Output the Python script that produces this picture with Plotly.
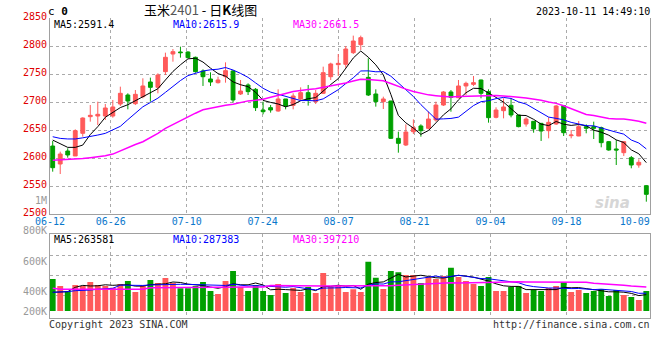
import plotly.graph_objects as go

# ---------------- data ----------------
dates = ["06-12","06-13","06-14","06-15","06-16","06-19","06-20","06-21","06-26","06-27",
         "06-28","06-29","06-30","07-03","07-04","07-05","07-06","07-07","07-10","07-11",
         "07-12","07-13","07-14","07-17","07-18","07-19","07-20","07-21","07-24","07-25",
         "07-26","07-27","07-28","07-31","08-01","08-02","08-03","08-04","08-07","08-08",
         "08-09","08-10","08-11","08-14","08-15","08-16","08-17","08-18","08-21","08-22",
         "08-23","08-24","08-25","08-28","08-29","08-30","08-31","09-01","09-04","09-05",
         "09-06","09-07","09-08","09-11","09-12","09-13","09-14","09-15","09-18","09-19",
         "09-20","09-21","09-22","09-25","09-26","09-27","09-28","10-09","10-10","10-11"]

opens = [2621.4,2589.3,2612.5,2603.6,2644.1,2673.8,2675.0,2675.0,2675.0,2696.4,
         2712.5,2697.0,2709.5,2735.7,2726.2,2754.2,2785.7,2789.3,2789.3,2779.8,
         2755.4,2741.1,2734.5,2745.2,2755.4,2714.3,2730.4,2722.6,2685.7,2689.9,
         2683.9,2705.4,2694.0,2705.4,2716.7,2700.6,2715.5,2745.2,2766.7,2767.3,
         2788.1,2802.4,2744.0,2714.3,2700.6,2701.8,2635.1,2623.2,2647.0,2657.2,
         2653.0,2667.9,2694.6,2717.9,2707.7,2728.6,2731.5,2739.3,2718.5,2672.6,
         2684.5,2694.1,2676.8,2660.7,2665.5,2661.9,2648.8,2660.7,2693.5,2639.9,
         2639.3,2656.0,2656.0,2654.2,2629.2,2616.1,2609.5,2600.6,2587.5,2550.6]
highs = [2630.4,2611.3,2617.3,2651.2,2672.6,2694.6,2700.6,2696.4,2703.6,2727.4,
         2715.5,2721.4,2742.3,2743.5,2751.2,2788.1,2794.6,2798.8,2790.5,2781.0,
         2758.3,2753.0,2745.2,2770.8,2757.0,2739.3,2733.3,2725.0,2700.6,2694.6,
         2722.6,2705.4,2715.5,2726.2,2730.4,2721.4,2763.1,2770.2,2785.7,2800.0,
         2818.5,2818.5,2778.0,2722.6,2709.5,2702.0,2647.0,2660.1,2669.0,2660.1,
         2682.7,2700.6,2719.6,2721.4,2739.3,2736.3,2746.4,2740.0,2722.6,2690.5,
         2706.6,2706.6,2677.0,2672.6,2666.0,2662.0,2672.6,2694.6,2694.6,2650.0,
         2666.1,2660.1,2664.9,2656.0,2630.4,2632.2,2629.2,2603.6,2597.6,2551.8]
lows = [2575.6,2571.4,2600.6,2603.6,2638.1,2664.9,2658.9,2667.9,2672.0,2692.9,
        2686.9,2694.6,2706.6,2700.6,2715.5,2748.2,2772.0,2779.2,2778.0,2752.4,
        2728.6,2728.6,2733.0,2734.5,2698.8,2712.5,2712.5,2683.9,2678.0,2681.0,
        2682.7,2686.9,2686.9,2703.6,2693.5,2696.4,2714.3,2739.3,2746.4,2761.3,
        2785.7,2792.9,2710.7,2691.7,2687.5,2634.0,2609.5,2621.4,2642.9,2638.1,
        2651.2,2664.9,2692.9,2682.7,2706.6,2712.5,2728.6,2706.6,2663.1,2670.8,
        2670.8,2672.6,2654.8,2656.0,2645.2,2630.4,2635.1,2659.0,2639.3,2635.1,
        2639.0,2644.1,2633.9,2619.1,2613.0,2587.5,2603.6,2581.6,2582.7,2522.0]
closes = [2582.7,2607.1,2605.4,2648.8,2671.4,2676.2,2678.0,2689.3,2691.1,2715.5,
          2701.8,2713.7,2728.6,2726.2,2748.2,2779.8,2789.9,2788.1,2779.2,2754.2,
          2745.2,2735.7,2739.3,2756.0,2703.6,2719.6,2718.5,2689.9,2682.7,2685.7,
          2705.4,2692.9,2710.7,2716.7,2703.6,2715.5,2752.4,2767.9,2769.0,2794.6,
          2808.9,2814.9,2712.5,2700.6,2705.4,2635.1,2626.2,2646.4,2654.2,2648.8,
          2669.6,2694.6,2717.9,2708.3,2728.6,2733.3,2734.5,2715.5,2672.0,2685.7,
          2691.1,2676.8,2656.0,2669.6,2651.8,2648.2,2663.7,2692.9,2645.2,2641.0,
          2656.0,2653.0,2653.0,2627.4,2614.3,2614.3,2629.2,2587.5,2592.3,2535.1]
volumes = [522000,408000,326000,424000,408000,473000,424000,408000,380000,440000,
           489000,310000,408000,505000,456000,538000,456000,370000,370000,408000,
           473000,326000,277000,489000,652000,391000,326000,424000,326000,261000,
           440000,293000,375000,310000,391000,293000,619000,391000,408000,310000,
           354000,310000,804000,543000,359000,652000,631000,587000,587000,456000,
           554000,522000,571000,706000,554000,489000,440000,408000,554000,326000,
           326000,391000,408000,293000,342000,326000,375000,408000,473000,310000,
           342000,293000,326000,359000,245000,342000,261000,228000,179000,326000]

# moving-average values before a full window exists
ma5_head = [2632, 2625, 2619, 2619]
ma10_head = [2638, 2635, 2634, 2634, 2636, 2638, 2641, 2644, 2650]
ma30_head = [2596, 2596.5, 2597, 2598, 2599, 2600.5, 2602, 2604, 2607, 2613,
             2619, 2624, 2629, 2636, 2644, 2653, 2660, 2667, 2673, 2680,
             2686, 2689, 2692, 2694, 2696, 2699, 2702, 2703, 2705]
vol_ma5_head = [305000, 305000, 315000, 386000]
vol_ma10_head = [305000, 305000, 315000, 331000, 331000, 342000, 354000, 359000, 370000]
vol_ma30_head = [370000, 356000, 355000, 354000, 354000, 354000, 354000, 354000, 354000, 354000,
                 355000, 355000, 356000, 378000, 380000, 381000, 381000, 382000, 383000, 384000,
                 386000, 388000, 390000, 391000, 391000, 392000, 392000, 393000, 393000]

price_labels = [2500, 2550, 2600, 2650, 2700, 2750, 2800, 2850]
date_label_idx = [0, 8, 18, 28, 38, 48, 58, 68, 77]
date_grid_idx = [8, 18, 28, 38, 48, 58, 68]
vol_axis_labels = ["1M", "800K", "600K", "400K", "200K"]

title_text = "玉米<span style='color:#555555'>2401</span> - 日<b>K</b>线图"
time_text = "2023-10-11 14:49:10"
price_ma_text = ["MA5:2591.4", "MA10:2615.9", "MA30:2661.5"]
vol_ma_text = ["MA5:263581", "MA10:287383", "MA30:397210"]


def moving_avg(vals, n, head):
    out = list(head)
    for i in range(len(head), len(vals)):
        out.append(sum(vals[i - n + 1:i + 1]) / n)
    return out


ma5 = moving_avg(closes, 5, ma5_head)
ma10 = moving_avg(closes, 10, ma10_head)
ma30 = moving_avg(closes, 30, ma30_head)
vma5 = moving_avg(volumes, 5, vol_ma5_head)
vma10 = moving_avg(volumes, 10, vol_ma10_head)
vma30 = moving_avg(volumes, 30, vol_ma30_head)

# ---------------- style ----------------
W, H = 660, 360
MONO = "DejaVu Sans Mono"
RED = "#FF5A5A"
GREEN = "#00A000"
GRID = "#AAAAAA"
AX = "#A0A0A0"
MA_COLORS = ["#000000", "#0000FF", "#FF00FF"]
MA_WIDTHS = [1, 1, 1.5]

xdom = [50 / W, 650 / W]
ydom_main = [1 - 214 / H, 1 - 18 / H]
ydom_vol = [1 - 318.3 / H, 1 - 234.3 / H]
VK = 16300  # volume per pixel
vol_range = [-(318.3 - 311) * VK, (311 - 234.3) * VK]
vol_grid = [(311 - p) * VK for p in (255, 275, 295)]

fig = go.Figure()

fig.add_trace(go.Candlestick(
    x=dates, open=opens, high=highs, low=lows, close=closes,
    increasing=dict(line=dict(color=RED, width=1), fillcolor=RED),
    decreasing=dict(line=dict(color=GREEN, width=1), fillcolor=GREEN),
    whiskerwidth=0, xaxis="x", yaxis="y", showlegend=False, hoverinfo="skip"))

for vals, col, w in zip([ma5, ma10, ma30], MA_COLORS, MA_WIDTHS):
    fig.add_trace(go.Scatter(x=dates, y=vals, mode="lines", line=dict(color=col, width=w),
                             xaxis="x", yaxis="y", showlegend=False, hoverinfo="skip"))

bar_colors = [RED if c >= o else GREEN for o, c in zip(opens, closes)]
fig.add_trace(go.Bar(x=dates, y=volumes, marker=dict(color=bar_colors, line=dict(width=0)),
                     width=0.78, xaxis="x2", yaxis="y2", showlegend=False, hoverinfo="skip"))

for vals, col, w in zip([vma5, vma10, vma30], MA_COLORS, MA_WIDTHS):
    fig.add_trace(go.Scatter(x=dates, y=vals, mode="lines", line=dict(color=col, width=w),
                             xaxis="x2", yaxis="y2", showlegend=False, hoverinfo="skip"))

# dummy traces so the overlay axes exist
for xa, ya in (("x3", "y"), ("x4", "y"), ("x5", "y2")):
    fig.add_trace(go.Scatter(x=[None], y=[None], mode="lines", xaxis=xa, yaxis=ya,
                             showlegend=False, hoverinfo="skip"))

xrange_main = [-0.36, 79.49]

fig.update_layout(
    width=W, height=H, margin=dict(l=0, r=0, t=0, b=0, autoexpand=False),
    paper_bgcolor="white", plot_bgcolor="white",
    showlegend=False, boxgap=0.27, bargap=0.2, hovermode=False,
    font=dict(family=MONO, size=10),
    xaxis=dict(domain=xdom, anchor="y", type="category", range=xrange_main,
               showticklabels=False, showgrid=False, zeroline=False, automargin=False,
               showline=True, linecolor=AX, linewidth=1, ticks="",
               rangeslider=dict(visible=False), fixedrange=True),
    yaxis=dict(domain=ydom_main, anchor="x", range=[2500, 2850], automargin=False,
               tickmode="array", tickvals=price_labels, ticklabelshift=-2,
               tickfont=dict(family=MONO, size=10, color="#E00000"),
               showgrid=True, gridcolor=GRID, griddash="dot", gridwidth=1,
               showline=True, mirror=True, linecolor=AX, linewidth=1,
               zeroline=False, ticks="", fixedrange=True),
    xaxis2=dict(domain=xdom, anchor="y2", type="category", matches="x", automargin=False,
                showticklabels=False, showgrid=False, zeroline=False,
                showline=True, mirror=True, linecolor=AX, linewidth=1, ticks=""),
    yaxis2=dict(domain=ydom_vol, anchor="x2", range=vol_range, automargin=False,
                tickmode="array", tickvals=vol_grid, showticklabels=False,
                showgrid=True, gridcolor=GRID, griddash="dot", gridwidth=1,
                showline=True, mirror=True, linecolor=AX, linewidth=1,
                zeroline=False, ticks="", fixedrange=True),
    xaxis3=dict(domain=xdom, anchor="y", overlaying="x", range=[0, 79], automargin=False,
                tickmode="array", tickvals=date_label_idx,
                ticktext=[dates[k] for k in date_label_idx],
                tickfont=dict(family=MONO, size=10, color="#0A78CC"),
                showgrid=False, zeroline=False, showline=False, ticks=""),
    xaxis4=dict(domain=xdom, anchor="y", overlaying="x", range=[0, 79], automargin=False,
                tickmode="array", tickvals=date_grid_idx, showticklabels=False,
                showgrid=True, gridcolor=GRID, griddash="dot", gridwidth=1,
                zeroline=False, showline=False, ticks=""),
    xaxis5=dict(domain=xdom, anchor="y2", overlaying="x2", range=[0, 79], automargin=False,
                tickmode="array", tickvals=date_grid_idx, showticklabels=False,
                showgrid=True, gridcolor=GRID, griddash="dot", gridwidth=1,
                zeroline=False, showline=False, ticks=""),
)


def ann(text, x, y, xanchor="left", color="#000000", size=10, family=MONO):
    return dict(text=text, x=x / W, y=1 - y / H, xref="paper", yref="paper",
                xanchor=xanchor, yanchor="middle", showarrow=False, borderpad=0,
                font=dict(family=family, size=size, color=color))


anns = [
    ann("c <b>0</b>", 47, 11, size=11),
    ann(title_text, 200, 9.5, xanchor="center", family="Noto Sans CJK SC", size=13),
    ann(time_text, 651, 11.5, xanchor="right"),
    ann("Copyright 2023 SINA.COM", 48, 324, color="#333333"),
    ann("http://finance.sina.com.cn", 651, 324, xanchor="right", color="#333333"),
    ann("<b><i>sina</i></b>", 612, 203, xanchor="center", color="#D6D6D6", size=15,
        family="DejaVu Sans"),
]
for txt, x, col in zip(price_ma_text, (53, 172, 292), MA_COLORS):
    anns.append(ann(txt, x, 24.5, color=col))
for txt, x, col in zip(vol_ma_text, (53, 172, 292), MA_COLORS):
    anns.append(ann(txt, x, 239.5, color=col))
for txt, y in zip(vol_axis_labels, (200.5, 230.5, 261, 291, 311)):
    anns.append(ann(txt, 48, y, xanchor="right", color="#999999"))

fig.update_layout(annotations=anns)

fig.write_html("out.html", config={"displayModeBar": False, "staticPlot": True},
               post_script="document.body.style.margin='0px';")
